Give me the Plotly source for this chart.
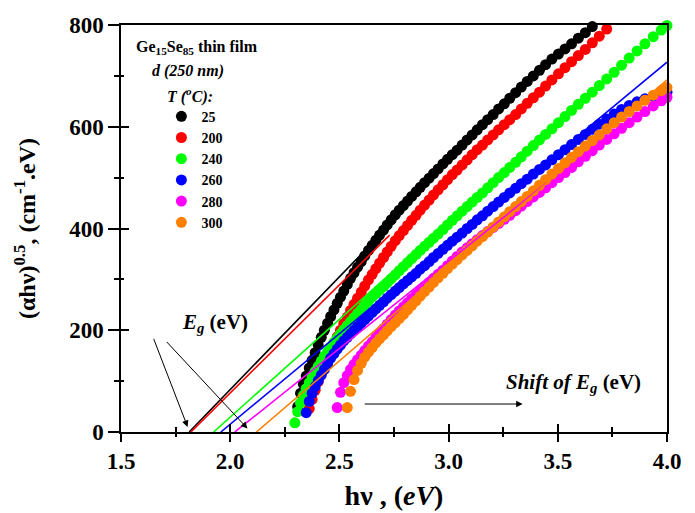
import plotly.graph_objects as go

# photon energy grid (eV) shared by all measured series
hv_grid = [2.296, 2.309, 2.322, 2.335, 2.348, 2.362, 2.375, 2.389, 2.403, 2.417,
           2.431, 2.446, 2.460, 2.475, 2.490, 2.505, 2.520, 2.536, 2.551, 2.567,
           2.583, 2.600, 2.616, 2.633, 2.650, 2.667, 2.684, 2.702, 2.719, 2.737,
           2.756, 2.774, 2.793, 2.812, 2.831, 2.851, 2.870, 2.890, 2.911, 2.931,
           2.952, 2.974, 2.995, 3.017, 3.039, 3.062, 3.085, 3.108, 3.131, 3.155,
           3.179, 3.204, 3.229, 3.255, 3.280, 3.307, 3.333, 3.360, 3.388, 3.416,
           3.444, 3.473, 3.503, 3.533, 3.563, 3.594, 3.626, 3.658, 3.690, 3.724,
           3.758, 3.792, 3.827, 3.863, 3.899, 3.937, 3.974, 4.000]

temps = ["25", "200", "240", "260", "280", "300"]
colors = ["#000000", "#ff0000", "#00ff00", "#0000ff", "#ff00ff", "#ff8000"]
start_hv = [2.309, 2.362, 2.296, 2.348, 2.490, 2.536]

y_25 = [50, 76, 94, 110, 126, 141, 156, 171, 186, 200, 214, 227, 240, 253, 265,
        277, 290, 302, 313, 324, 335, 346, 357, 367, 377, 387, 397, 407, 417, 427,
        436, 445, 454, 463, 472, 481, 490, 499, 508, 517, 527, 536, 545, 554, 564,
        574, 584, 594, 604, 614, 624, 635, 645, 656, 667, 678, 689, 700, 711, 722,
        733, 743, 753, 763, 774, 785, 797]
y_200 = [46, 64, 82, 99, 115, 130, 145, 159, 173, 187, 200, 213, 226, 239, 251,
         263, 275, 287, 299, 310, 321, 332, 343, 354, 365, 376, 386, 396, 406, 416,
         426, 436, 446, 456, 466, 476, 486, 496, 506, 515, 525, 535, 545, 555, 564,
         574, 584, 594, 604, 614, 624, 635, 646, 657, 668, 680, 692, 704, 716, 728,
         740, 752, 765, 778, 792]
y_240 = [18, 40, 57, 72, 85, 97, 108, 119, 129, 139, 149, 158, 167, 176, 185,
         193, 201, 209, 217, 225, 233, 241, 249, 257, 265, 272, 279, 286, 293, 301,
         309, 317, 325, 333, 341, 349, 357, 365, 373, 381, 389, 398, 407, 416, 425,
         434, 443, 452, 461, 470, 480, 490, 500, 510, 520, 530, 541, 552, 563, 574,
         585, 596, 608, 620, 632, 644, 656, 668, 681, 694, 707, 721, 735, 749, 763,
         777, 790, 799]
y_260 = [38, 60, 76, 89, 101, 112, 123, 134, 145, 154, 163, 171, 179, 186, 193,
         200, 207, 214, 221, 228, 235, 242, 249, 256, 263, 270, 277, 284, 291, 298,
         305, 312, 320, 327, 335, 343, 351, 359, 367, 375, 383, 391, 400, 408, 417,
         425, 434, 443, 452, 461, 470, 479, 488, 497, 507, 516, 525, 535, 545, 555,
         565, 575, 585, 595, 605, 615, 625, 634, 642, 649, 655, 660, 665, 668]
y_280 = [48, 78, 97, 111, 123, 133, 142, 151, 160, 169, 177, 186, 194, 203, 212,
         221, 230, 238, 246, 254, 262, 270, 278, 286, 294, 302, 310, 318, 327, 336,
         345, 354, 362, 370, 378, 386, 394, 402, 410, 418, 426, 435, 444, 453, 462,
         471, 480, 490, 500, 510, 520, 531, 542, 553, 564, 575, 586, 597, 608, 619,
         630, 641, 651, 658]
y_300 = [48, 80, 103, 121, 135, 147, 157, 166, 175, 183, 191, 199, 207, 215, 223,
         231, 240, 249, 258, 267, 276, 285, 294, 303, 312, 321, 330, 339, 348, 357,
         366, 375, 384, 393, 403, 413, 423, 433, 443, 453, 463, 474, 485, 496, 507,
         518, 529, 540, 551, 562, 573, 584, 596, 608, 619, 630, 641, 652, 662, 671,
         677]
series_y = [y_25, y_200, y_240, y_260, y_280, y_300]

# linear fits: intercept Eg on the energy axis and visible end point
eg_values = [1.812, 1.820, 1.924, 1.957, 2.021, 2.120]
fit_end_hv = [2.624, 2.730, 2.920, 4.000, 3.450, 4.000]
fit_end_y = [360, 387, 383, 727, 490, 692]

x_ticks = [1.5, 2.0, 2.5, 3.0, 3.5, 4.0]
y_ticks = [0, 200, 400, 600, 800]

FONT = "Liberation Serif"

fig = go.Figure()

for name, col, x0, ys in zip(temps, colors, start_hv, series_y):
    i0 = hv_grid.index(x0)
    fig.add_trace(go.Scatter(
        x=hv_grid[i0:i0 + len(ys)], y=ys, mode="markers", name="<b>" + name + "</b>",
        marker=dict(color=col, size=11, line=dict(width=0)), cliponaxis=False))

for col, eg, xe, ye in zip(colors, eg_values, fit_end_hv, fit_end_y):
    fig.add_trace(go.Scatter(x=[eg, xe], y=[0, ye], mode="lines", showlegend=False,
                             line=dict(color=col, width=1.6), hoverinfo="skip"))

# helper trace so the overlaid tick axes are drawn
fig.add_trace(go.Scatter(x=[None], y=[None], xaxis="x2", yaxis="y2", showlegend=False))

tickfont = dict(family=FONT, size=23, color="black", weight="bold")
common = dict(showgrid=False, zeroline=False, tickcolor="black", tickwidth=1.5,
              automargin=False)

# the page body adds an 8 px offset, so the figure is 8 px smaller and margins shifted
fig.update_layout(
    width=687, height=505,
    margin=dict(l=113, r=28, t=17, b=81, autoexpand=False),
    plot_bgcolor="white", paper_bgcolor="white",
    font=dict(family=FONT, color="black"),
    legend=dict(x=0.074, y=0.814, xanchor="left", yanchor="top",
                font=dict(family=FONT, size=14, color="black"),
                bgcolor="rgba(0,0,0,0)", itemsizing="trace", tracegroupgap=0),
    xaxis=dict(range=[1.5, 4.0], tickvals=x_ticks, tickformat=".1f",
               ticks="outside", ticklen=8, showline=True, linewidth=1.5,
               linecolor="black", mirror=True, tickfont=tickfont,
               minor=dict(dtick=0.25, ticks="outside", ticklen=3, tickwidth=1.5,
                          tickcolor="black"),
               title=dict(text="<b>hν , (<i>eV</i>)</b>", standoff=12,
                          font=dict(family=FONT, size=28, color="black")),
               **common),
    yaxis=dict(range=[0, 800], tickvals=y_ticks, ticks="outside", ticklen=11,
               showline=True, linewidth=1.5, linecolor="black", mirror=True,
               tickfont=tickfont,
               minor=dict(dtick=100, ticks="outside", ticklen=5, tickwidth=1.5,
                          tickcolor="black"),
               title=dict(text="<b>(αhν)<sup>0.5</sup>, (cm<sup>-1</sup>.eV)</b>",
                          standoff=27, font=dict(family=FONT, size=24, color="black")),
               **common),
    xaxis2=dict(overlaying="x", anchor="y2", range=[1.5, 4.0], tickvals=x_ticks,
                ticks="inside", ticklen=8, showticklabels=False, showline=False,
                minor=dict(dtick=0.25, ticks="inside", ticklen=5, tickwidth=1.5,
                           tickcolor="black"), **common),
    yaxis2=dict(overlaying="y", anchor="x2", range=[0, 800], tickvals=y_ticks,
                ticks="inside", ticklen=8, showticklabels=False, showline=False,
                minor=dict(dtick=100, ticks="inside", ticklen=3, tickwidth=1.5,
                           tickcolor="black"), **common),
)

ann_font = dict(family=FONT, size=16, color="black")
fig.add_annotation(xref="paper", yref="paper", x=0.023, y=0.945, xanchor="left",
                   yanchor="middle", showarrow=False, font=ann_font,
                   text="<b>Ge<sub>15</sub>Se<sub>85</sub> thin film</b>")
fig.add_annotation(xref="paper", yref="paper", x=0.054, y=0.886, xanchor="left",
                   yanchor="middle", showarrow=False, font=ann_font,
                   text="<b><i>d (250 nm)</i></b>")
fig.add_annotation(xref="paper", yref="paper", x=0.081, y=0.827, xanchor="left",
                   yanchor="middle", showarrow=False, font=ann_font,
                   text="<b><i>T (<sup>o</sup>C):</i></b>")

fig.add_annotation(x=1.93, y=214, xref="x", yref="y", showarrow=False,
                   font=dict(family=FONT, size=21, color="black"),
                   text="<b><i>E<sub>g</sub></i> (eV)</b>")
fig.add_annotation(x=3.57, y=96, xref="x", yref="y", showarrow=False,
                   font=dict(family=FONT, size=21, color="black"),
                   text="<b><i>Shift of E<sub>g</sub></i> (eV)</b>")

arrows = [((1.647, 186), (1.805, 10)), ((1.703, 180), (2.079, 7)),
          ((2.609, 55), (3.339, 55))]
for (tx, ty), (hx, hy) in arrows:
    fig.add_annotation(x=hx, y=hy, ax=tx, ay=ty, xref="x", yref="y",
                       axref="x", ayref="y", text="", showarrow=True,
                       arrowhead=2, arrowsize=1.3, arrowwidth=1, arrowcolor="black")

fig.write_html("out.html")
